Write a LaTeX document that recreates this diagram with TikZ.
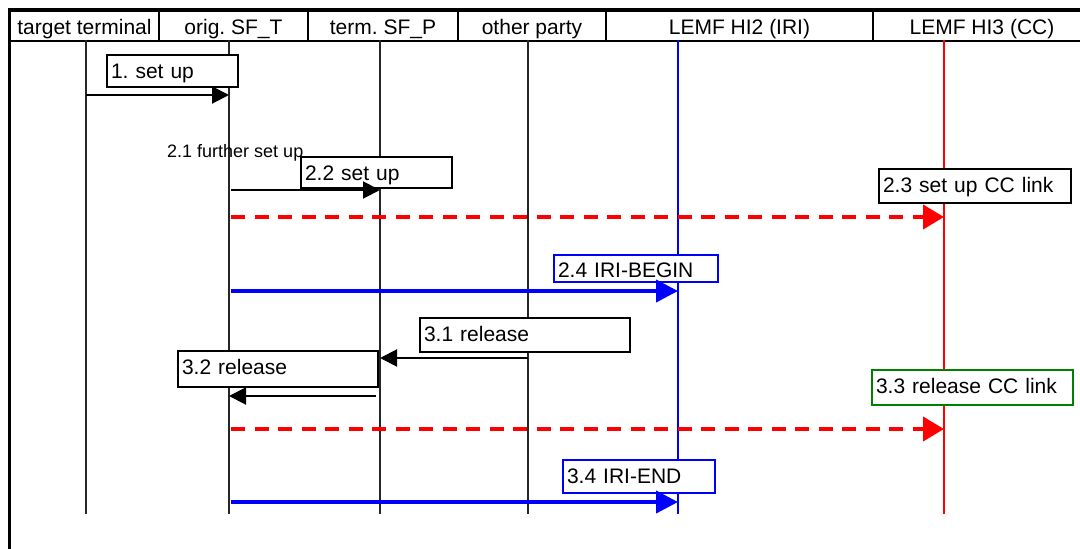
\documentclass[tikz,border=0pt]{standalone}
\usepackage{fontspec}
\setmainfont{Liberation Sans}
\usetikzlibrary{arrows.meta}
\definecolor{lblgreen}{RGB}{0,128,0}
\frenchspacing
\begin{document}
\frenchspacing
\begin{tikzpicture}[x=1pt,y=-1pt,
  every node/.style={font=\fontsize{21}{24}\selectfont\frenchspacing, inner sep=0pt},
  hcell/.style={draw, line width=2pt, minimum height=30pt, anchor=north west,
                text height=23pt, text depth=7pt, inner ysep=0pt},
  life/.style={line width=1.6pt, black!85},
  msg/.style={line width=2pt, -{Triangle[length=17pt,width=17pt]}},
  ccmsg/.style={line width=4pt, red, dash pattern=on 14pt off 9.5pt,
                -{Triangle[length=21pt,width=24pt]}},
  irimsg/.style={line width=4pt, blue, -{Triangle[length=22pt,width=22pt]}},
  lbl/.style={draw, fill=white, line width=2pt, anchor=north west, inner xsep=4pt,
              inner ysep=0pt, align=left, text height=23pt},
]
\useasboundingbox (0,0) rectangle (1080,549);

% header cells
\node[hcell, minimum width=149pt] (h1) at (9,10)   {target terminal};
\node[hcell, minimum width=149pt] (h2) at (158,10) {orig. SF\_T};
\node[hcell, minimum width=150pt] (h3) at (307,10) {term. SF\_P};
\node[hcell, minimum width=148pt] (h4) at (457,10) {other party};
\node[hcell, minimum width=267pt] (h5) at (605,10) {LEMF HI2 (IRI)};
\node[hcell, minimum width=218pt] (h6) at (872,10) {LEMF HI3 (CC)};
\draw[line width=4pt] (8,10) -- (1080,10);
\draw[line width=3pt] (9.5,8) -- (9.5,549);

% lifelines
\coordinate (tt) at (86,40);  \coordinate (tte) at (86,514);
\coordinate (ot) at (229,40); \coordinate (ote) at (229,514);
\coordinate (tm) at (380,40); \coordinate (tme) at (380,514);
\coordinate (op) at (528,40); \coordinate (ope) at (528,514);
\coordinate (hi2) at (678,40); \coordinate (hi2e) at (678,514);
\coordinate (hi3) at (944,40); \coordinate (hi3e) at (944,514);
\draw[life] (tt) -- (tte);
\draw[life] (ot) -- (ote);
\draw[life] (tm) -- (tme);
\draw[life] (op) -- (ope);
\draw[line width=1.5pt, blue] (hi2) -- (hi2e);
\draw[line width=1.5pt, red] (hi3) -- (hi3e);

% message rows
\coordinate (r1) at (0,95);
\coordinate (r2) at (0,190);
\coordinate (r3) at (0,217);
\coordinate (r4) at (0,291);
\coordinate (r5) at (0,358);
\coordinate (r6) at (0,396);
\coordinate (r7) at (0,429);
\coordinate (r8) at (0,502);

% labels
\node[lbl, text width=123pt, text depth=9pt]  (b1)  at (106,54)  {1. set up};
\node[font=\fontsize{18}{20}\selectfont, anchor=base west] (t21) at (167,157) {2.1 further set up};
\node[lbl, text width=143pt, text depth=8pt]  (b22) at (300,156) {2.2 set up};
\node[lbl, text width=184pt, text depth=11pt] (b23) at (878,168) {2.3 set up CC link};
\node[lbl, draw=blue, text width=156pt, text height=22pt, text depth=5pt] (b24) at (553,254) {2.4 IRI-BEGIN};
\node[lbl, text width=202pt, text depth=11pt] (b31) at (419,317) {3.1 release};
\node[lbl, text width=192pt, text depth=13pt] (b32) at (177,350) {3.2 release};
\node[lbl, draw=lblgreen, text width=193pt, text depth=12pt] (b33) at (871,369) {3.3 release CC link};
\node[lbl, draw=blue, text width=144pt, text depth=10pt] (b34) at (562,459) {3.4 IRI-END};

% messages
\draw[msg] (tt |- r1) -- (ot |- r1);
\draw[msg, shorten <=2pt] (ot |- r2) -- (tm |- r2);
\draw[ccmsg, shorten <=2pt] (ot |- r3) -- (hi3 |- r3);
\draw[irimsg, shorten <=2pt] (ot |- r4) -- (hi2 |- r4);
\draw[msg] (op |- r5) -- (tm |- r5);
\draw[msg, shorten <=4pt] (tm |- r6) -- (ot |- r6);
\draw[ccmsg, shorten <=2pt] (ot |- r7) -- (hi3 |- r7);
\draw[irimsg, shorten <=2pt] (ot |- r8) -- (hi2 |- r8);
\end{tikzpicture}
\end{document}
